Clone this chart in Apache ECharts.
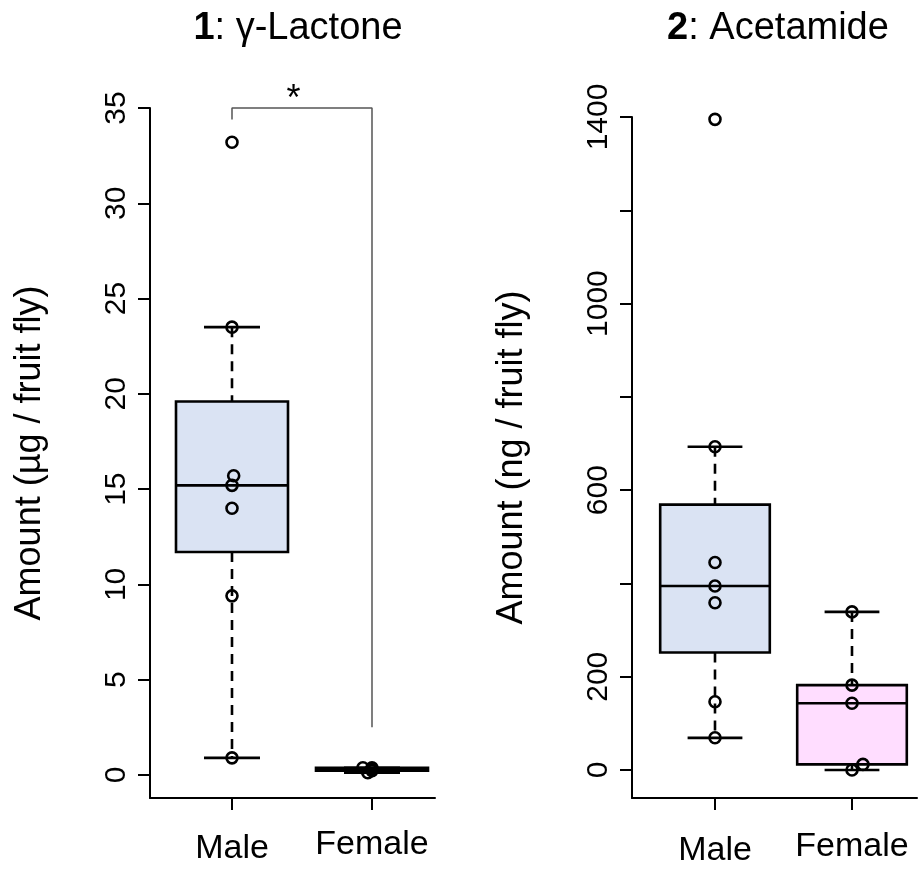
<!DOCTYPE html>
<html><head><meta charset="utf-8">
<script src="https://cdn.jsdelivr.net/npm/echarts@6/dist/echarts.min.js"></script>
<style>html,body{margin:0;padding:0;background:#fff}#c{width:918px;height:869px}</style>
</head><body><div id="c"></div>
<script>
// ---------- data ----------
const categories = ['Male', 'Female'];
const catPos = [1, 2];

// Panel 1: gamma-lactone (ug / fruit fly); stats = [lower whisker, Q1, median, Q3, upper whisker]
const lactoneStats = [[0.9, 11.7, 15.2, 19.6, 23.5], [0.12, 0.22, 0.3, 0.38, 0.38]];
const lactoneMale = [33.2, 23.5, 15.7, 15.2, 14.0, 9.4, 0.9];
const lactoneMaleJitter = [0, 0, 0.012, 0, 0, 0, 0];
const lactoneFemale = [0.38, 0.38, 0.3, 0.22, 0.12];
const lactoneFemaleJitter = [-0.065, 0, 0, 0, -0.03];
const lactoneTicks = [0, 5, 10, 15, 20, 25, 30, 35];
const bracketX = [1, 1, 2, 2];
const bracketY = [34.4, 35, 35, 2.5];
const starPos = [1.44, 35.4];
const starText = '*';

// Panel 2: acetamide (ng / fruit fly)
const acetStats = [[69, 252, 394.5, 569, 693], [0, 12, 143, 182, 339]];
const acetMale = [1395, 693, 445, 394.5, 358.7, 146.4, 69.3];
const acetMaleJitter = [0, 0, 0, 0, 0, 0, 0];
const acetFemale = [339, 182, 143, 12, 0];
const acetFemaleJitter = [0, 0, 0, 0.08, 0];
const acetTicks = [0, 200, 400, 600, 800, 1000, 1200, 1400];
const acetLabels = [0, 200, 600, 1000, 1400];

const titles = [['1', ': γ-Lactone'], ['2', ': Acetamide']];
const yNames = ['Amount (µg / fruit fly)', 'Amount (ng / fruit fly)'];

// ---------- styles ----------
const FONT = '"Liberation Sans", Arial, sans-serif';
const boxFill = ['#DAE3F3', '#FFDDFF'];
const BOX_HALF = 0.4, STAPLE_HALF = 0.2;

function boxRender(params, api) {
  const x = api.value(0), lo = api.value(1), q1 = api.value(2), med = api.value(3), q3 = api.value(4), hi = api.value(5);
  const tl = api.coord([x - BOX_HALF, q3]);
  const br = api.coord([x + BOX_HALF, q1]);
  const cHi = api.coord([x, hi]), cLo = api.coord([x, lo]);
  const sHiL = api.coord([x - STAPLE_HALF, hi]), sHiR = api.coord([x + STAPLE_HALF, hi]);
  const sLoL = api.coord([x - STAPLE_HALF, lo]), sLoR = api.coord([x + STAPLE_HALF, lo]);
  const mL = api.coord([x - BOX_HALF, med]), mR = api.coord([x + BOX_HALF, med]);
  const lw = 2.6;
  const ln = (a, b, dash) => ({type: 'line', shape: {x1: a[0], y1: a[1], x2: b[0], y2: b[1]},
    style: {stroke: '#000', lineWidth: lw, lineDash: dash || null, lineCap: 'butt'}});
  return {type: 'group', children: [
    ln(cHi, [cHi[0], tl[1]], [10, 7]),
    ln([cLo[0], br[1]], cLo, [10, 7]),
    ln(sHiL, sHiR), ln(sLoL, sLoR),
    {type: 'rect', shape: {x: tl[0], y: tl[1], width: br[0] - tl[0], height: br[1] - tl[1]},
     style: {fill: boxFill[params.dataIndex], stroke: '#000', lineWidth: lw}},
    ln(mL, mR)
  ]};
}

function starRender(params, api) {
  const p = api.coord([api.value(0), api.value(1)]);
  return {type: 'text', x: p[0], y: p[1], style: {text: starText, fontSize: 36, fontFamily: FONT, fill: '#000', align: 'center', verticalAlign: 'middle'}};
}

const pts = (vals, jit, c) => vals.map((v, i) => [c + jit[i], v]);

const grids = [
  {left: 150, top: 108, width: 285, height: 690},
  {left: 632, top: 117, width: 285, height: 681}
];
const xRanges = [[0.4143, 2.45], [0.3942, 2.4745]];
const yRanges = [[-1.207, 35], [-60, 1400]];

function xAxis(i, labelPads) {
  return {type: 'value', gridIndex: i, min: xRanges[i][0], max: xRanges[i][1],
    axisLine: {onZero: false, lineStyle: {color: '#000', width: 2}},
    axisTick: {customValues: catPos, length: 12, lineStyle: {color: '#000', width: 2}},
    splitLine: {show: false},
    axisLabel: {customValues: catPos, margin: 30, color: '#000', fontSize: 34, fontFamily: FONT,
      formatter: v => (v === 1 ? '{m|' + categories[0] + '}' : '{f|' + categories[1] + '}'),
      rich: {m: {fontSize: 34, fontFamily: FONT, padding: [labelPads[0], 0, 0, 0]},
             f: {fontSize: 34, fontFamily: FONT, padding: [labelPads[1], 0, 0, 0]}}}
  };
}
function yAxis(i, ticks, labels) {
  return {type: 'value', gridIndex: i, min: yRanges[i][0], max: yRanges[i][1],
    name: yNames[i], nameLocation: 'middle', nameRotate: 90, nameGap: 102,
    nameTextStyle: {fontSize: 36, fontFamily: FONT, color: '#000'},
    axisLine: {show: true, lineStyle: {color: '#000', width: 2}},
    axisTick: {show: true, customValues: ticks, length: 12, lineStyle: {color: '#000', width: 2}},
    splitLine: {show: false},
    axisLabel: {customValues: labels, rotate: 90, margin: 18, color: '#000', fontSize: 30, fontFamily: FONT,
      formatter: v => String(v)}
  };
}

const scatterStyle = {color: 'rgba(0,0,0,0)', borderColor: '#000', borderWidth: 2.6, opacity: 1};

const option = {
  animation: false,
  backgroundColor: '#fff',
  grid: grids,
  xAxis: [xAxis(0, [4, 0]), xAxis(1, [6, 2])],
  yAxis: [yAxis(0, lactoneTicks, lactoneTicks), yAxis(1, acetTicks, acetLabels)],
  graphic: [
    {type: 'text', x: 298, y: 29, style: {text: '{b|' + titles[0][0] + '}' + titles[0][1], fontSize: 38, fontFamily: FONT, fill: '#000', align: 'center', verticalAlign: 'middle',
      rich: {b: {fontSize: 38, fontFamily: FONT, fontWeight: 'bold'}}}},
    {type: 'text', x: 778, y: 29, style: {text: '{b|' + titles[1][0] + '}' + titles[1][1], fontSize: 38, fontFamily: FONT, fill: '#000', align: 'center', verticalAlign: 'middle',
      rich: {b: {fontSize: 38, fontFamily: FONT, fontWeight: 'bold'}}}}
  ],
  series: [
    {type: 'custom', xAxisIndex: 0, yAxisIndex: 0, renderItem: boxRender, clip: false, z: 2,
     data: lactoneStats.map((s, i) => [catPos[i]].concat(s))},
    {type: 'custom', xAxisIndex: 1, yAxisIndex: 1, renderItem: boxRender, clip: false, z: 2,
     data: acetStats.map((s, i) => [catPos[i]].concat(s))},
    {type: 'scatter', xAxisIndex: 0, yAxisIndex: 0, symbol: 'circle', symbolSize: 11, itemStyle: scatterStyle, z: 5,
     data: pts(lactoneMale, lactoneMaleJitter, catPos[0]).concat(pts(lactoneFemale, lactoneFemaleJitter, catPos[1]))},
    {type: 'scatter', xAxisIndex: 1, yAxisIndex: 1, symbol: 'circle', symbolSize: 11, itemStyle: scatterStyle, z: 5,
     data: pts(acetMale, acetMaleJitter, catPos[0]).concat(pts(acetFemale, acetFemaleJitter, catPos[1]))},
    {type: 'line', xAxisIndex: 0, yAxisIndex: 0, symbol: 'none', clip: false, z: 3,
     lineStyle: {color: '#555', width: 1.5}, data: bracketX.map((x, i) => [x, bracketY[i]])},
    {type: 'custom', xAxisIndex: 0, yAxisIndex: 0, renderItem: starRender, clip: false, z: 4, data: [starPos]}
  ]
};
const chart = echarts.init(document.getElementById('c'), null, {renderer: 'canvas'});
chart.setOption(option);
</script></body></html>
